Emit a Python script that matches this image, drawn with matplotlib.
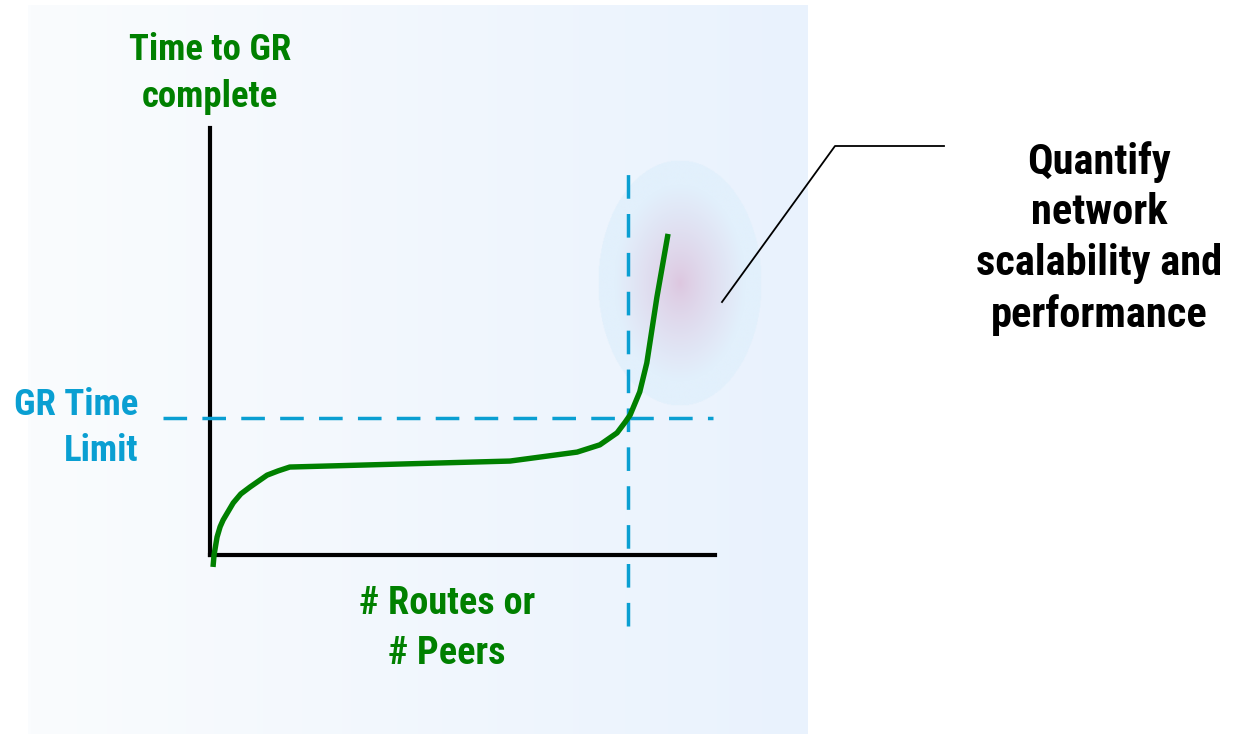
import numpy as np
import matplotlib
matplotlib.use('Agg')
import matplotlib.pyplot as plt

# Curve: time to finish graceful restart vs. number of routes / peers (arbitrary units 0-100)
routes = [0.6, 0.8, 1.4, 2.0, 2.6, 4.6, 6.1, 7.9, 11.3, 13.5, 15.8,
          59.4, 72.7, 77.2, 80.6, 82.2, 83.2, 85.1, 86.5, 88.5, 90.7]
gr_time = [-2.8, 0.0, 4.2, 6.6, 8.2, 12.2, 14.3, 15.9, 18.7, 19.7, 20.6,
           22.0, 24.1, 25.8, 28.6, 31.1, 32.8, 38.2, 45.0, 60.4, 75.2]

gr_time_limit = 32.1       # horizontal threshold
routes_at_limit = 82.8     # where the curve crosses the limit

y_label_lines = ['Time to GR', 'complete']
x_label_lines = ['# Routes or', '# Peers']
limit_label_lines = ['GR Time', 'Limit']
note_lines = ['Quantify', 'network', 'scalability and', 'performance']

GREEN = '#008000'
BLUE = '#0a9fd2'
FONT = ['Roboto Condensed', 'Fira Sans Condensed', 'Liberation Sans', 'DejaVu Sans']

W, H = 1234, 734
fig = plt.figure(figsize=(W / 100, H / 100), dpi=100)

# background layer in pixel units
bg = fig.add_axes([0, 0, 1, 1])
bg.set_xlim(0, W)
bg.set_ylim(H, 0)
bg.axis('off')

# light blue panel, white on the left fading to blue on the right
grad = np.linspace(0, 1, 256)[None, :]
c0 = np.array([250, 252, 254]) / 255
c1 = np.array([233, 242, 253]) / 255
panel = c0 + (c1 - c0) * grad[..., None]
bg.imshow(panel, extent=(28, 808, 734, 5), aspect='auto', zorder=0)

# soft highlight blob behind the steep part of the curve
cx, cy, rx, ry = 680, 283, 82, 123
xs = np.linspace(cx - rx, cx + rx, 200)
ys = np.linspace(cy - ry, cy + ry, 300)
X, Y = np.meshgrid(xs, ys)
r = np.sqrt(((X - cx) / rx) ** 2 + ((Y - cy) / ry) ** 2)
edge = np.array([226, 240, 252]) / 255
centre = np.array([221, 198, 223]) / 255
t = np.clip(r / 0.8, 0, 1)[..., None] ** 0.8
blob = np.concatenate([centre + (edge - centre) * t, np.where(r <= 1, 1.0, 0.0)[..., None]], axis=2)
bg.imshow(blob, extent=(cx - rx, cx + rx, cy + ry, cy - ry), aspect='auto', zorder=1, interpolation='bilinear')

# callout line to the note
bg.plot([722, 835, 944], [302, 146, 146], color='black', lw=1.3, zorder=2)

# chart area
ax = fig.add_axes([210 / W, (H - 555) / H, 505 / W, 427 / H])
ax.set_xlim(0, 100)
ax.set_ylim(0, 100)
ax.patch.set_alpha(0)
for side in ['top', 'right']:
    ax.spines[side].set_visible(False)
for side in ['left', 'bottom']:
    ax.spines[side].set_linewidth(3)
    ax.spines[side].set_zorder(3)
ax.set_xticks([])
ax.set_yticks([])

ax.plot([-9.3, 99.6], [gr_time_limit, gr_time_limit], color=BLUE, lw=2.5,
        dashes=(6.8, 4.4), clip_on=False, zorder=4)
ax.plot([routes_at_limit, routes_at_limit], [-16.6, 91.8], color=BLUE, lw=2.5,
        dashes=(6.8, 4.4), clip_on=False, zorder=4)
ax.plot(routes, gr_time, color=GREEN, lw=3.9, clip_on=False, zorder=5,
        solid_joinstyle='round', solid_capstyle='butt')

# labels
txt = dict(fontfamily=FONT, fontweight='bold', ha='center', va='center')
for i, s in enumerate(y_label_lines):
    bg.text(210, 50 + i * 47, s, color=GREEN, fontsize=26.5, **txt)
for i, s in enumerate(x_label_lines):
    bg.text(447, 604 + i * 50, s, color=GREEN, fontsize=27.5, **txt)
for i, s in enumerate(limit_label_lines):
    bg.text(138, 405 + i * 46, s, color=BLUE, fontsize=26.5, **{**txt, 'ha': 'right'})
for i, s in enumerate(note_lines):
    bg.text(1099, 162 + i * 51, s, color='black', fontsize=30.5, **txt)

fig.savefig('out.png', dpi=100)
